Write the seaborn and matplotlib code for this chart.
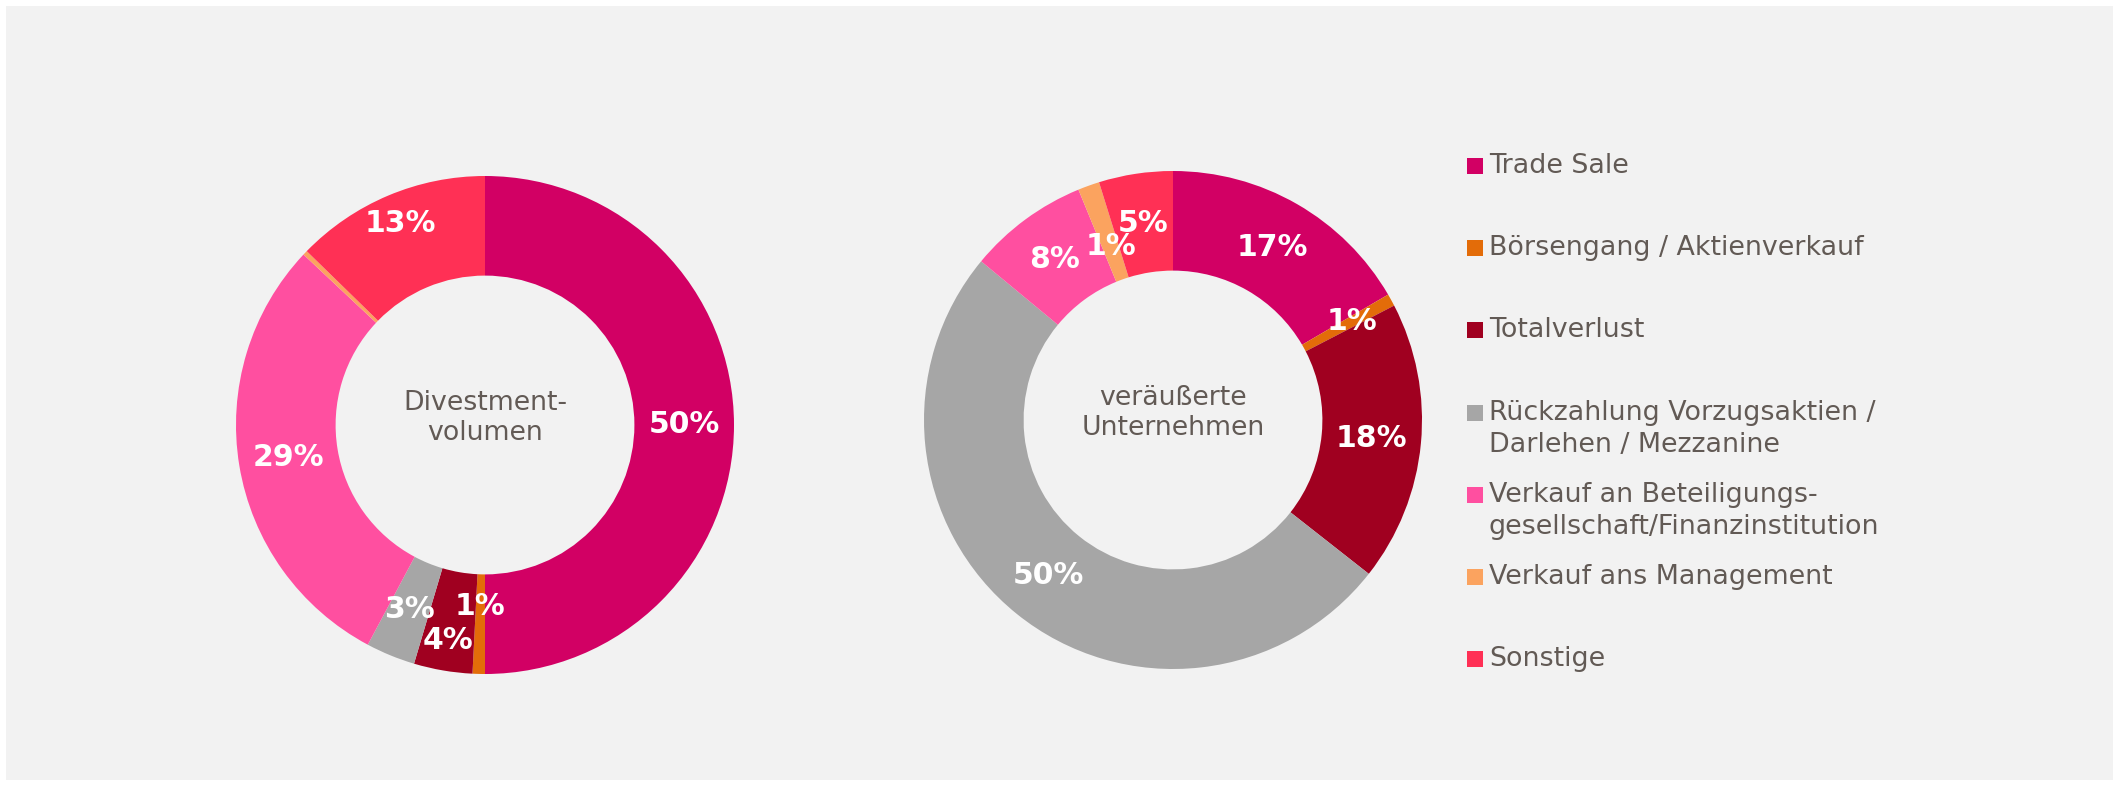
import numpy as np
import pandas as pd
import seaborn as sns
import matplotlib.pyplot as plt
from matplotlib.patches import Rectangle

# categories (same order for both donuts, clockwise from 12 o'clock)
categories = ['Trade Sale',
              'Börsengang / Aktienverkauf',
              'Totalverlust',
              'Rückzahlung Vorzugsaktien /\nDarlehen / Mezzanine',
              'Verkauf an Beteiligungs-\ngesellschaft/Finanzinstitution',
              'Verkauf ans Management',
              'Sonstige']
colors = ['#d20064', '#e36c09', '#a00020', '#a6a6a6', '#ff4fa0', '#fba35f', '#ff3055']

# shares in %
volumen = [50.0, 0.8, 3.8, 3.2, 29.2, 0.3, 12.7]
unternehmen = [16.6, 0.8, 18.2, 50.4, 7.8, 1.4, 4.8]

titles = ['Divestment-\nvolumen', 'veräußerte\nUnternehmen']

sns.set_theme(style='white')
plt.rcParams['font.family'] = ['DejaVu Sans']
palette = sns.color_palette(colors)
txt_col = '#625a55'

W, H = 2119, 786
fig = plt.figure(figsize=(W / 100, H / 100), dpi=100)
fig.patch.set_facecolor('white')

# pixel-space overlay: grey panel + legend
axl = fig.add_axes([0, 0, 1, 1])
axl.set_xlim(0, W)
axl.set_ylim(H, 0)
axl.axis('off')
axl.add_patch(Rectangle((6, 6), W - 12, H - 12, facecolor='#f2f2f2', edgecolor='none'))
for i, (cat, c) in enumerate(zip(categories, palette)):
    y = 166 + 82.2 * i
    axl.add_patch(Rectangle((1467, y - 8), 16, 16, facecolor=c, edgecolor='none'))
    for j, line in enumerate(cat.split('\n')):
        axl.text(1489, y + 32 * j, line, va='center', ha='left',
                 fontsize=19.4, color=txt_col)


def donut(cx, cy, values, title, label_r):
    half = 260
    ax = fig.add_axes([(cx - half) / W, (H - cy - half) / H, 2 * half / W, 2 * half / H])
    wedges, _ = ax.pie(values, colors=palette, startangle=90, counterclock=False,
                       radius=1, wedgeprops=dict(width=0.4, linewidth=0))
    for w, v, lr in zip(wedges, values, label_r):
        if v < 0.5:
            continue
        mid = np.deg2rad((w.theta1 + w.theta2) / 2)
        ax.text(lr * np.cos(mid), lr * np.sin(mid), f'{v:.0f}%', ha='center', va='center',
                fontsize=21.5, fontweight='bold', color='white')
    ax.text(0, 0.03, title, ha='center', va='center', fontsize=19.3,
            color=txt_col, linespacing=1.2)
    lim = half / 249
    ax.set_xlim(-lim, lim)
    ax.set_ylim(-lim, lim)
    ax.set_aspect('equal')
    ax.axis('off')


donut(485, 425, volumen, titles[0], [0.8, 0.73, 0.88, 0.8, 0.8, 0.8, 0.88])
donut(1173, 420, unternehmen, titles[1], [0.8, 0.82, 0.8, 0.8, 0.8, 0.74, 0.8])

fig.savefig('out.png', dpi=100, facecolor=fig.get_facecolor())
